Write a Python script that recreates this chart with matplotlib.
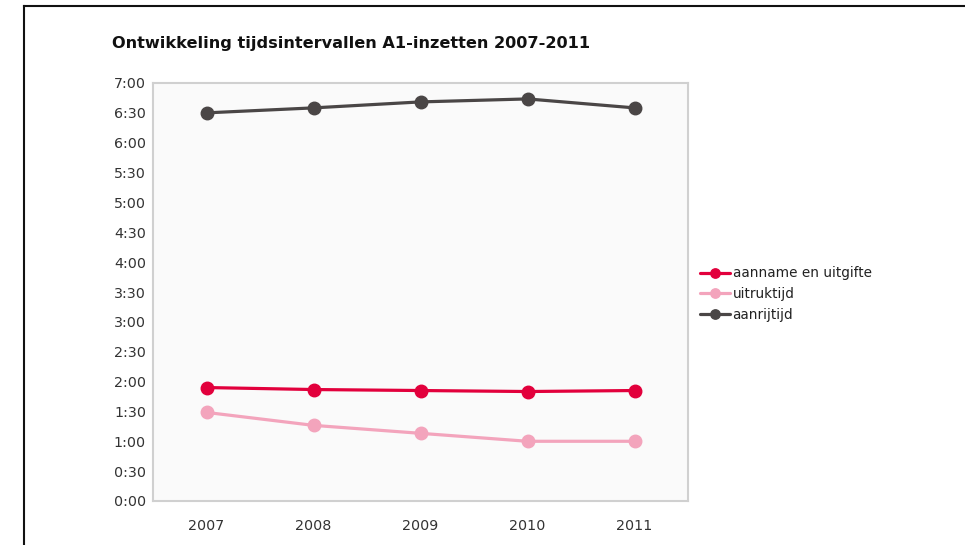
import matplotlib
matplotlib.use("Agg")
import matplotlib.pyplot as plt
import numpy as np
from matplotlib.lines import Line2D

years = ["2007", "2008", "2009", "2010", "2011"]
# values in seconds
aanname = [114, 112, 111, 110, 111]
uitruk = [89, 76, 68, 60, 60]
aanrijtijd = [390, 395, 401, 404, 395]
series_names = ["aanname en uitgifte", "uitruktijd", "aanrijtijd"]
colors = ["#e2003c", "#f3a4bc", "#4a4646"]
yticks = list(range(0, 421, 30))
ytick_labels = [f"{t // 60}:{t % 60:02d}" for t in yticks]

fig = plt.figure(figsize=(9.65, 5.45), dpi=100)
fig.patch.set_facecolor("white")

# outer frame lines (top and left)
fig.add_artist(Line2D([24/965, 1.0], [1 - 6/545, 1 - 6/545], color="#111111", lw=1.5, transform=fig.transFigure))
fig.add_artist(Line2D([24/965, 24/965], [0, 1 - 6/545], color="#111111", lw=1.5, transform=fig.transFigure))

ax = fig.add_axes([153/965, 1 - 501/545, (688-153)/965, (501-83)/545])
ax.set_facecolor("#fafafa")
x = np.arange(len(years))
for vals, name, c in zip([aanname, uitruk, aanrijtijd], series_names, colors):
    ax.plot(x, vals, color=c, lw=2.3, marker="o", markersize=9, label=name, solid_capstyle="round")

ax.set_xlim(-0.5, 4.5)
ax.set_ylim(0, 420)
ax.set_yticks(yticks)
ax.set_yticklabels(ytick_labels)
ax.set_xticks(x)
ax.set_xticklabels(years)
ax.tick_params(axis="both", length=0, labelsize=10.3, colors="#333333")
ax.tick_params(axis="y", pad=5)
ax.tick_params(axis="x", pad=13)
for s in ax.spines.values():
    s.set_color("#d0d0d0")
    s.set_linewidth(1.5)

leg = ax.legend(loc="center left", bbox_to_anchor=(1.012, 0.495), frameon=False, fontsize=9.8,
                handlelength=2.2, handletextpad=0.2, labelspacing=0.5, borderaxespad=0,
                markerscale=0.75)
for t in leg.get_texts():
    t.set_color("#222222")

fig.text(112/965, 1 - 43/545, "Ontwikkeling tijdsintervallen A1-inzetten 2007-2011",
         fontsize=11.6, fontweight="bold", va="center", ha="left", color="#111111")

fig.savefig("out.png", dpi=100)
